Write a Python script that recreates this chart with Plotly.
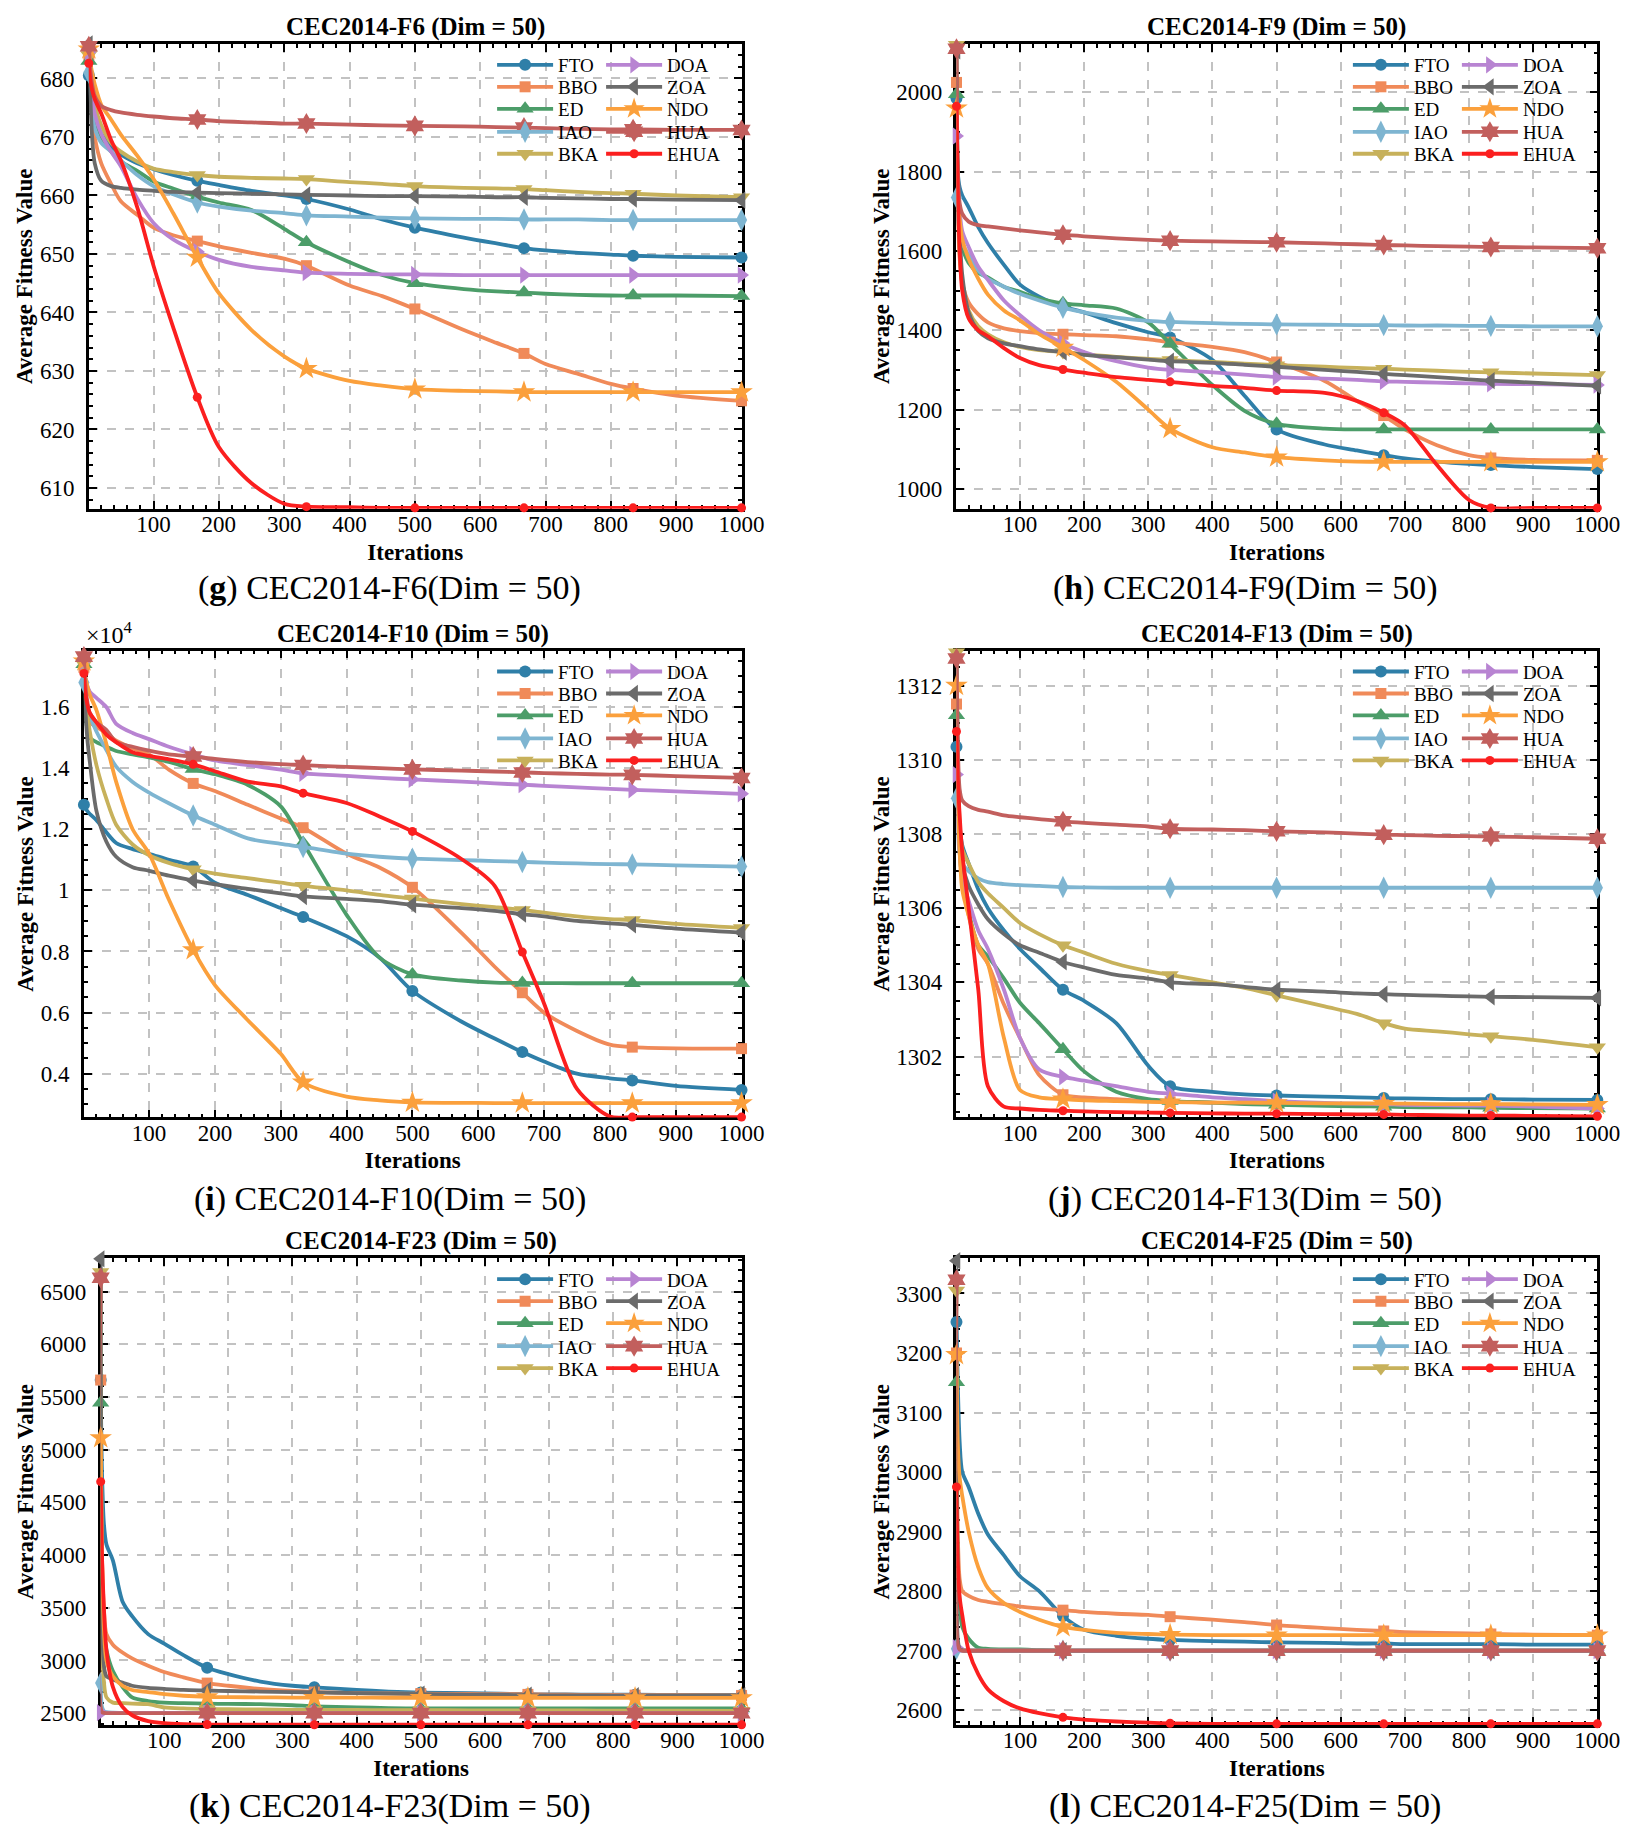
import plotly.graph_objects as go

W, H = 1636, 1833
FONT = "Liberation Serif"

# --------------------------------------------------
# DATA
# --------------------------------------------------

ALGOS = ["FTO", "BBO", "ED", "IAO", "BKA", "DOA", "ZOA", "NDO", "HUA", "EHUA"]

ITERS = [1, 3, 6, 10, 20, 35, 50, 75, 100, 130, 167, 200, 250, 300, 334, 400,
         450, 500, 575, 625, 667, 700, 750, 800, 834, 900, 1000]
MARK_ITERS = [1, 167, 334, 500, 667, 834, 1000]

# CEC2014-F6
F6_FTO = [680.5, 678.0, 675.5, 673.0, 670.5, 668.5, 667.0, 665.5, 664.5, 663.5, 662.5, 661.8, 660.8, 660.0,
          659.4, 657.6, 655.9, 654.5, 652.8, 651.8, 651.0, 650.6, 650.2, 649.9, 649.7, 649.5, 649.4]
F6_BBO = [684.0, 679.0, 674.0, 670.0, 665.5, 662.0, 659.0, 656.7, 654.5, 653.2, 652.2, 651.3, 650.2, 649.2,
          648.0, 644.6, 642.8, 640.6, 637.0, 634.8, 633.0, 631.2, 629.5, 627.8, 627.0, 625.8, 624.9]
F6_ED = [683.0, 680.0, 677.0, 674.0, 670.0, 667.5, 665.8, 664.2, 662.4, 661.2, 659.8, 658.8, 657.5, 654.3,
         652.0, 648.6, 646.4, 645.0, 644.0, 643.6, 643.4, 643.2, 643.0, 642.9, 642.9, 642.9, 642.8]
F6_IAO = [681.0, 677.0, 674.0, 671.5, 669.0, 667.5, 666.0, 663.5, 661.6, 660.2, 658.8, 658.1, 657.4, 657.0,
          656.6, 656.4, 656.2, 656.1, 656.0, 656.0, 655.9, 655.9, 655.9, 655.8, 655.8, 655.8, 655.8]
F6_BKA = [684.0, 681.0, 678.0, 675.5, 672.0, 669.0, 667.5, 665.8, 664.6, 664.0, 663.5, 663.2, 663.0, 662.9,
          662.8, 662.3, 662.0, 661.6, 661.3, 661.2, 661.1, 660.9, 660.6, 660.4, 660.3, 660.0, 659.7]
F6_DOA = [684.5, 681.0, 677.0, 674.0, 670.5, 667.5, 665.0, 659.5, 655.3, 652.5, 650.4, 649.0, 647.8, 647.2,
          646.8, 646.6, 646.5, 646.5, 646.4, 646.4, 646.4, 646.4, 646.4, 646.4, 646.4, 646.4, 646.4]
F6_ZOA = [685.9, 678.0, 670.0, 665.5, 662.5, 661.6, 661.3, 661.0, 660.8, 660.6, 660.5, 660.4, 660.3, 660.2,
          660.1, 660.0, 659.9, 659.9, 659.8, 659.7, 659.7, 659.6, 659.5, 659.4, 659.4, 659.3, 659.2]
F6_NDO = [685.0, 683.0, 681.0, 679.0, 675.5, 673.0, 670.4, 666.8, 662.8, 657.0, 649.4, 643.3, 637.0, 632.5,
          630.4, 628.3, 627.5, 626.9, 626.6, 626.5, 626.4, 626.4, 626.4, 626.4, 626.4, 626.4, 626.4]
F6_HUA = [685.5, 682.0, 679.0, 677.0, 675.3, 674.6, 674.2, 673.8, 673.5, 673.2, 673.0, 672.7, 672.5, 672.3,
          672.3, 672.1, 672.0, 671.9, 671.8, 671.7, 671.6, 671.5, 671.4, 671.3, 671.3, 671.2, 671.2]
F6_EHUA = [682.6, 680.0, 678.0, 676.5, 674.0, 669.5, 666.0, 658.0, 648.0, 637.5, 625.5, 617.0, 610.8, 607.3,
           606.8, 606.7, 606.6, 606.6, 606.6, 606.6, 606.6, 606.6, 606.6, 606.6, 606.6, 606.6, 606.6]

# CEC2014-F9
F9_FTO = [1985, 1800, 1760, 1740, 1710, 1660, 1620, 1565, 1515, 1485, 1460, 1445, 1418, 1395,
          1382, 1325, 1235, 1150, 1112, 1097, 1085, 1077, 1069, 1063, 1060, 1055, 1050]
F9_BBO = [2025, 1700, 1580, 1520, 1470, 1440, 1420, 1405, 1398, 1393, 1390, 1388, 1385, 1377,
          1370, 1358, 1345, 1320, 1272, 1222, 1185, 1150, 1110, 1085, 1078, 1073, 1072]
F9_ED = [1995, 1750, 1660, 1610, 1570, 1545, 1533, 1510, 1497, 1480, 1468, 1463, 1455, 1420,
         1366, 1262, 1197, 1164, 1152, 1150, 1150, 1150, 1150, 1150, 1150, 1150, 1150]
F9_IAO = [1735, 1680, 1650, 1620, 1590, 1550, 1530, 1510, 1492, 1475, 1457, 1445, 1432, 1424,
          1421, 1418, 1416, 1415, 1414, 1413, 1413, 1412, 1412, 1411, 1411, 1410, 1410]
F9_BKA = [2120, 1750, 1600, 1520, 1450, 1410, 1390, 1370, 1358, 1350, 1345, 1340, 1333, 1328,
          1325, 1320, 1316, 1312, 1308, 1305, 1303, 1301, 1298, 1295, 1294, 1291, 1287]
F9_DOA = [1890, 1760, 1700, 1650, 1610, 1560, 1527, 1475, 1438, 1400, 1367, 1345, 1322, 1306,
          1300, 1294, 1288, 1282, 1278, 1275, 1271, 1270, 1268, 1266, 1265, 1264, 1262]
F9_ZOA = [2105, 1800, 1650, 1540, 1445, 1398, 1380, 1367, 1360, 1352, 1345, 1338, 1332, 1326,
          1322, 1318, 1313, 1308, 1300, 1295, 1290, 1287, 1282, 1276, 1273, 1268, 1260]
F9_NDO = [1960, 1760, 1680, 1630, 1580, 1530, 1490, 1450, 1425, 1390, 1357, 1325, 1270, 1200,
          1152, 1105, 1092, 1080, 1072, 1069, 1068, 1068, 1068, 1068, 1068, 1068, 1068]
F9_HUA = [2110, 1800, 1720, 1694, 1674, 1665, 1662, 1657, 1652, 1647, 1641, 1637, 1632, 1628,
          1626, 1624, 1623, 1622, 1619, 1617, 1615, 1614, 1612, 1611, 1610, 1609, 1607]
F9_EHUA = [1965, 1750, 1600, 1500, 1430, 1400, 1385, 1355, 1330, 1312, 1301, 1293, 1282, 1275,
           1270, 1260, 1255, 1248, 1242, 1222, 1192, 1160, 1060, 972, 952, 952, 952]

# CEC2014-F10
F10_FTO = [12800, 12700, 12600, 12500, 12300, 11900, 11550, 11350, 11200, 11000, 10780, 10250, 9850, 9420,
           9130, 8500, 7800, 6710, 5700, 5150, 4710, 4400, 4000, 3850, 3780, 3600, 3470]
F10_BBO = [17300, 16200, 15800, 15500, 15350, 15150, 14900, 14650, 14450, 13950, 13500, 13250, 12800, 12350,
           12050, 11200, 10750, 10100, 8600, 7500, 6650, 6000, 5400, 4950, 4870, 4830, 4820]
F10_ED = [17400, 16000, 15300, 15000, 14850, 14700, 14560, 14450, 14350, 14200, 13970, 13800, 13450, 12750,
          11550, 9200, 7800, 7250, 7050, 6980, 6970, 6965, 6960, 6960, 6960, 6960, 6960]
F10_IAO = [16800, 16300, 16000, 15700, 15200, 14600, 14050, 13550, 13200, 12850, 12450, 12150, 11700, 11520,
           11420, 11200, 11100, 11040, 10990, 10960, 10930, 10910, 10880, 10860, 10850, 10820, 10780]
F10_BKA = [17400, 16500, 15800, 15200, 14100, 13000, 12150, 11500, 11150, 10900, 10690, 10550, 10400, 10250,
           10150, 10000, 9850, 9730, 9550, 9450, 9360, 9270, 9150, 9060, 9030, 8900, 8770]
F10_DOA = [17500, 17000, 16700, 16500, 16300, 16000, 15450, 15150, 14950, 14700, 14450, 14250, 14100, 13950,
           13830, 13750, 13680, 13630, 13560, 13500, 13460, 13420, 13370, 13320, 13290, 13240, 13160]
F10_ZOA = [17850, 16000, 15000, 14200, 12600, 11600, 11100, 10760, 10640, 10480, 10320, 10200, 10050, 9900,
           9800, 9720, 9650, 9530, 9420, 9330, 9220, 9150, 9000, 8920, 8870, 8750, 8620]
F10_NDO = [17500, 17000, 16700, 16400, 15900, 14800, 13550, 12000, 11200, 9700, 8050, 6900, 5750, 4650,
           3720, 3250, 3130, 3060, 3045, 3040, 3040, 3040, 3040, 3040, 3040, 3040, 3040]
F10_HUA = [17650, 16800, 16200, 15800, 15500, 15250, 14850, 14700, 14570, 14450, 14380, 14300, 14200, 14130,
           14100, 14040, 14000, 13960, 13920, 13890, 13860, 13840, 13810, 13790, 13780, 13740, 13680]
F10_EHUA = [17100, 16500, 16100, 15800, 15500, 15100, 14850, 14520, 14400, 14290, 14125, 13900, 13560, 13400,
            13180, 12860, 12420, 11930, 11020, 10150, 7980, 6300, 3500, 2600, 2580, 2580, 2580]

# CEC2014-F13
F13_FTO = [1310.35, 1309.0, 1308.2, 1307.7, 1307.2, 1306.5, 1306.0, 1305.4, 1304.9, 1304.4, 1303.8, 1303.5,
           1302.9, 1301.75, 1301.2, 1301.05, 1300.98, 1300.95, 1300.92, 1300.9, 1300.88, 1300.87, 1300.86,
           1300.85, 1300.85, 1300.84, 1300.83]
F13_BBO = [1311.5, 1309.5, 1308.0, 1307.0, 1305.8, 1304.9, 1304.5, 1303.4, 1302.5, 1301.5, 1300.97, 1300.9,
           1300.85, 1300.8, 1300.78, 1300.76, 1300.74, 1300.72, 1300.71, 1300.7, 1300.7, 1300.69, 1300.69,
           1300.68, 1300.68, 1300.67, 1300.65]
F13_ED = [1311.2, 1309.0, 1307.5, 1306.8, 1305.9, 1305.0, 1304.7, 1304.1, 1303.45, 1302.9, 1302.2, 1301.6,
          1301.05, 1300.85, 1300.8, 1300.76, 1300.72, 1300.7, 1300.67, 1300.66, 1300.65, 1300.64, 1300.63,
          1300.63, 1300.62, 1300.61, 1300.6]
F13_IAO = [1308.96, 1308.0, 1307.5, 1307.2, 1307.0, 1306.8, 1306.7, 1306.65, 1306.62, 1306.6, 1306.57, 1306.56,
           1306.55, 1306.55, 1306.55, 1306.55, 1306.55, 1306.55, 1306.55, 1306.55, 1306.55, 1306.55, 1306.55,
           1306.55, 1306.55, 1306.55, 1306.55]
F13_BKA = [1312.9, 1310.0, 1308.3, 1307.6, 1307.2, 1306.7, 1306.4, 1306.0, 1305.6, 1305.3, 1305.0, 1304.8,
           1304.5, 1304.3, 1304.2, 1304.0, 1303.85, 1303.65, 1303.35, 1303.15, 1302.9, 1302.75, 1302.68,
           1302.6, 1302.55, 1302.45, 1302.25]
F13_DOA = [1309.6, 1308.5, 1307.5, 1306.8, 1306.2, 1305.4, 1304.9, 1303.8, 1302.5, 1301.65, 1301.45, 1301.35,
           1301.2, 1301.05, 1301.0, 1300.9, 1300.85, 1300.8, 1300.75, 1300.73, 1300.72, 1300.7, 1300.69,
           1300.68, 1300.68, 1300.65, 1300.6]
F13_ZOA = [1312.95, 1310.0, 1308.0, 1307.2, 1306.6, 1306.1, 1305.7, 1305.3, 1305.0, 1304.8, 1304.55, 1304.4,
           1304.2, 1304.1, 1304.0, 1303.95, 1303.88, 1303.8, 1303.75, 1303.7, 1303.68, 1303.66, 1303.64,
           1303.62, 1303.61, 1303.6, 1303.58]
F13_NDO = [1312.0, 1309.0, 1307.5, 1306.5, 1305.8, 1305.0, 1304.5, 1302.5, 1301.1, 1300.9, 1300.85, 1300.82,
           1300.8, 1300.78, 1300.77, 1300.76, 1300.76, 1300.75, 1300.74, 1300.74, 1300.73, 1300.73, 1300.72,
           1300.72, 1300.72, 1300.71, 1300.7]
F13_HUA = [1312.73, 1310.5, 1309.2, 1308.9, 1308.75, 1308.65, 1308.6, 1308.5, 1308.45, 1308.4, 1308.34, 1308.3,
           1308.25, 1308.2, 1308.14, 1308.12, 1308.1, 1308.07, 1308.04, 1308.01, 1307.98, 1307.97, 1307.95,
           1307.94, 1307.93, 1307.91, 1307.87]
F13_EHUA = [1310.76, 1309.5, 1308.5, 1307.5, 1306.0, 1303.8, 1301.2, 1300.65, 1300.6, 1300.56, 1300.54, 1300.52,
            1300.5, 1300.49, 1300.48, 1300.47, 1300.46, 1300.46, 1300.45, 1300.44, 1300.44, 1300.43, 1300.42,
            1300.41, 1300.41, 1300.4, 1300.39]

# CEC2014-F23
F23_FTO = [5660, 4800, 4300, 4100, 3950, 3560, 3420, 3250, 3160, 3050, 2930, 2870, 2800, 2760,
           2745, 2720, 2705, 2695, 2690, 2685, 2680, 2678, 2676, 2675, 2675, 2673, 2672]
F23_BBO = [5660, 4000, 3500, 3250, 3150, 3075, 3020, 2950, 2890, 2840, 2785, 2760, 2730, 2710,
           2700, 2690, 2687, 2685, 2682, 2680, 2678, 2676, 2674, 2672, 2671, 2670, 2668]
F23_ED = [5444, 3800, 3300, 3100, 2900, 2750, 2650, 2615, 2600, 2595, 2590, 2588, 2585, 2575,
          2565, 2555, 2548, 2545, 2545, 2545, 2545, 2545, 2545, 2545, 2545, 2545, 2545]
F23_IAO = [2785, 2560, 2520, 2510, 2505, 2503, 2503, 2502, 2502, 2502, 2502, 2502, 2502, 2502,
           2502, 2502, 2502, 2502, 2502, 2502, 2502, 2502, 2502, 2502, 2502, 2502, 2502]
F23_BKA = [6685, 3200, 2800, 2650, 2600, 2595, 2590, 2585, 2555, 2545, 2540, 2538, 2535, 2532,
           2530, 2530, 2529, 2528, 2527, 2526, 2526, 2525, 2525, 2524, 2524, 2523, 2522]
F23_DOA = [2505, 2501, 2500, 2500, 2500, 2500, 2500, 2500, 2500, 2500, 2500, 2500, 2500, 2500,
           2500, 2500, 2500, 2500, 2500, 2500, 2500, 2500, 2500, 2500, 2500, 2500, 2500]
F23_ZOA = [6810, 3500, 2950, 2850, 2820, 2790, 2760, 2740, 2730, 2720, 2715, 2710, 2705, 2700,
           2697, 2690, 2685, 2680, 2676, 2673, 2670, 2669, 2668, 2667, 2666, 2665, 2665]
F23_NDO = [5111, 4000, 3300, 3000, 2850, 2760, 2720, 2700, 2680, 2665, 2655, 2652, 2650, 2648,
           2647, 2647, 2646, 2646, 2645, 2645, 2645, 2645, 2645, 2645, 2645, 2645, 2645]
F23_HUA = [6630, 2510, 2502, 2500, 2500, 2500, 2500, 2500, 2500, 2500, 2500, 2500, 2500, 2500,
           2500, 2500, 2500, 2500, 2500, 2500, 2500, 2500, 2500, 2500, 2500, 2500, 2500]
F23_EHUA = [4696, 4000, 3500, 3100, 2750, 2560, 2480, 2425, 2405, 2396, 2392, 2391, 2390, 2390,
            2390, 2390, 2390, 2390, 2390, 2390, 2390, 2390, 2390, 2390, 2390, 2390, 2390]

# CEC2014-F25
F25_FTO = [3252, 3150, 3050, 3000, 2975, 2930, 2895, 2860, 2825, 2800, 2758, 2735, 2725, 2720,
           2718, 2716, 2715, 2714, 2713, 2712, 2712, 2711, 2711, 2711, 2711, 2710, 2710]
F25_BBO = [3200, 2900, 2820, 2800, 2792, 2785, 2782, 2778, 2774, 2771, 2768, 2765, 2762, 2760,
           2757, 2752, 2748, 2743, 2738, 2735, 2733, 2731, 2730, 2729, 2728, 2727, 2726]
F25_ED = [3151, 2850, 2780, 2740, 2720, 2705, 2703, 2702, 2702, 2701, 2700, 2700, 2700, 2700,
          2700, 2700, 2700, 2700, 2700, 2700, 2700, 2700, 2700, 2700, 2700, 2700, 2700]
F25_IAO = [2703, 2701, 2700, 2700, 2700, 2700, 2700, 2700, 2700, 2700, 2700, 2700, 2700, 2700,
           2700, 2700, 2700, 2700, 2700, 2700, 2700, 2700, 2700, 2700, 2700, 2700, 2700]
F25_BKA = [3305, 2710, 2702, 2700, 2700, 2700, 2700, 2700, 2700, 2700, 2700, 2700, 2700, 2700,
           2700, 2700, 2700, 2700, 2700, 2700, 2700, 2700, 2700, 2700, 2700, 2700, 2700]
F25_DOA = [2705, 2701, 2700, 2700, 2700, 2700, 2700, 2700, 2700, 2700, 2700, 2700, 2700, 2700,
           2700, 2700, 2700, 2700, 2700, 2700, 2700, 2700, 2700, 2700, 2700, 2700, 2700]
F25_ZOA = [3355, 2720, 2703, 2701, 2700, 2700, 2700, 2700, 2700, 2700, 2700, 2700, 2700, 2700,
           2700, 2700, 2700, 2700, 2700, 2700, 2700, 2700, 2700, 2700, 2700, 2700, 2700]
F25_NDO = [3197, 3050, 2990, 2960, 2900, 2840, 2805, 2780, 2765, 2752, 2740, 2735, 2730, 2728,
           2727, 2726, 2726, 2726, 2726, 2726, 2726, 2726, 2726, 2726, 2726, 2726, 2726]
F25_HUA = [3323, 2710, 2702, 2700, 2700, 2700, 2700, 2700, 2700, 2700, 2700, 2700, 2700, 2700,
           2700, 2700, 2700, 2700, 2700, 2700, 2700, 2700, 2700, 2700, 2700, 2700, 2700]
F25_EHUA = [2975, 2850, 2790, 2760, 2700, 2660, 2635, 2615, 2603, 2595, 2588, 2584, 2581, 2579,
            2578, 2577, 2577, 2577, 2577, 2577, 2577, 2577, 2577, 2577, 2577, 2577, 2577]

# --------------------------------------------------
# STYLE
# --------------------------------------------------

COLORS = {
    "FTO": "#2f7fa8", "BBO": "#f08a59", "ED": "#4c9d69", "IAO": "#7eb5d1", "BKA": "#c7b15b",
    "DOA": "#b884d2", "ZOA": "#6b6b6b", "NDO": "#fba03c", "HUA": "#c25f5d", "EHUA": "#fb1f1f",
}
SYMBOLS = {
    "FTO": "circle", "BBO": "square", "ED": "triangle-up", "IAO": "diamond-tall", "BKA": "triangle-down",
    "DOA": "triangle-right", "ZOA": "triangle-left", "NDO": "star", "HUA": "hexagram", "EHUA": "circle",
}
SIZES = {
    "FTO": 12, "BBO": 11, "ED": 15, "IAO": 16, "BKA": 15,
    "DOA": 15, "ZOA": 15, "NDO": 17, "HUA": 16, "EHUA": 9,
}

PANELS = [
    dict(name="F6", letter="g", data=[F6_FTO, F6_BBO, F6_ED, F6_IAO, F6_BKA, F6_DOA, F6_ZOA, F6_NDO, F6_HUA, F6_EHUA],
         yrange=[606.45, 685.9], ytick=list(range(610, 681, 10)), ytext=None, minor=2,
         box=(82, 744, 36, 501)),
    dict(name="F9", letter="h", data=[F9_FTO, F9_BBO, F9_ED, F9_IAO, F9_BKA, F9_DOA, F9_ZOA, F9_NDO, F9_HUA, F9_EHUA],
         yrange=[950, 2122], ytick=list(range(1000, 2001, 200)), ytext=None, minor=50,
         box=(962, 1612, 36, 501)),
    dict(name="F10", letter="i", data=[F10_FTO, F10_BBO, F10_ED, F10_IAO, F10_BKA, F10_DOA, F10_ZOA, F10_NDO, F10_HUA, F10_EHUA],
         yrange=[2570, 17845], ytick=list(range(4000, 16001, 2000)),
         ytext=["0.4", "0.6", "0.8", "1", "1.2", "1.4", "1.6"], minor=500,
         box=(77, 744, 643, 1110)),
    dict(name="F13", letter="j", data=[F13_FTO, F13_BBO, F13_ED, F13_IAO, F13_BKA, F13_DOA, F13_ZOA, F13_NDO, F13_HUA, F13_EHUA],
         yrange=[1300.36, 1312.94], ytick=list(range(1302, 1313, 2)), ytext=None, minor=0.5,
         box=(962, 1612, 643, 1110)),
    dict(name="F23", letter="k", data=[F23_FTO, F23_BBO, F23_ED, F23_IAO, F23_BKA, F23_DOA, F23_ZOA, F23_NDO, F23_HUA, F23_EHUA],
         yrange=[2387, 6815], ytick=list(range(2500, 6501, 500)), ytext=None, minor=100,
         box=(94, 744, 1251, 1718)),
    dict(name="F25", letter="l", data=[F25_FTO, F25_BBO, F25_ED, F25_IAO, F25_BKA, F25_DOA, F25_ZOA, F25_NDO, F25_HUA, F25_EHUA],
         yrange=[2575, 3359], ytick=list(range(2600, 3301, 100)), ytext=None, minor=20,
         box=(962, 1612, 1251, 1718)),
]

LEGEND_ROW_OFFSETS = [21, 43, 65, 88, 110]


def px_x(v):
    return v / W


def px_y(v):
    return 1 - v / H


mark_idx = [i for i, it in enumerate(ITERS) if it in MARK_ITERS]

fig = go.Figure()
layout = dict(annotations=[])

for p, panel in enumerate(PANELS):
    n = p + 1
    sfx = "" if n == 1 else str(n)
    left, right, top, bottom = panel["box"]

    for k, algo in enumerate(ALGOS):
        row = k % 5
        leg_no = p * 5 + row + 1
        fig.add_trace(go.Scatter(
            x=ITERS, y=panel["data"][k],
            mode="lines+markers",
            name=algo,
            line=dict(color=COLORS[algo], width=3.8, shape="spline", smoothing=0.8),
            marker=dict(symbol=SYMBOLS[algo], size=SIZES[algo], color=COLORS[algo],
                        line=dict(width=0)),
            selectedpoints=mark_idx,
            unselected=dict(marker=dict(opacity=0)),
            cliponaxis=False,
            xaxis=f"x{sfx}", yaxis=f"y{sfx}",
            legend="legend" if leg_no == 1 else f"legend{leg_no}",
            legendwidth=38 if k < 5 else 64,
            hoverinfo="skip",
        ))

    axis_common = dict(
        showline=True, linecolor="black", linewidth=2.5, mirror="ticks",
        ticks="inside", ticklen=8, tickwidth=2, tickcolor="black",
        showgrid=True, gridcolor="#c2c2c2", griddash="dash", gridwidth=1.5,
        zeroline=False, layer="below traces",
        tickfont=dict(family=FONT, size=23, color="black"),
    )
    layout[f"xaxis{sfx}"] = dict(
        axis_common,
        domain=[px_x(left), px_x(right)],
        anchor=f"y{sfx}",
        range=[1, 1000],
        tickvals=list(range(100, 1001, 100)),
        ticklabelstandoff=-7,
        minor=dict(ticks="inside", ticklen=4, tickwidth=1.5, tickcolor="black", dtick=20, tick0=0,
                   showgrid=False),
        title=dict(text="<b>Iterations</b>", font=dict(family=FONT, size=23, color="black"), standoff=8),
    )
    layout[f"yaxis{sfx}"] = dict(
        axis_common,
        domain=[px_y(bottom), px_y(top)],
        anchor=f"x{sfx}",
        range=panel["yrange"],
        tickvals=panel["ytick"],
        ticktext=panel["ytext"] if panel["ytext"] else [str(v) for v in panel["ytick"]],
        ticklabelstandoff=7,
        minor=dict(ticks="inside", ticklen=4, tickwidth=1.5, tickcolor="black", dtick=panel["minor"],
                   tick0=panel["ytick"][0], showgrid=False),
        title=dict(text="<b>Average Fitness Value</b>", font=dict(family=FONT, size=23, color="black"),
                   standoff=1),
    )

    # legend: one horizontal legend per row (two entries each)
    leg_x = 491 if left < 800 else 1359
    for row in range(5):
        leg_no = p * 5 + row + 1
        layout["legend" if leg_no == 1 else f"legend{leg_no}"] = dict(
            orientation="h",
            x=px_x(leg_x), xanchor="left",
            y=px_y(top + LEGEND_ROW_OFFSETS[row]), yanchor="middle",
            bgcolor="rgba(0,0,0,0)", borderwidth=0,
            font=dict(family=FONT, size=19, color="black"),
            itemwidth=56, entrywidthmode="pixels",
        )

    # title, caption
    cx = (left + right) / 2
    layout["annotations"].append(dict(
        text=f"<b>CEC2014-{panel['name']} (Dim = 50)</b>",
        x=px_x(cx), y=px_y(top - 1), xref="paper", yref="paper",
        xanchor="center", yanchor="bottom", showarrow=False,
        font=dict(family=FONT, size=25, color="black"),
    ))
    cap_x = 387 if left < 800 else 1255
    cap_y = {36: 580, 643: 1192, 1251: 1799}[top]
    layout["annotations"].append(dict(
        text=f"(<b>{panel['letter']}</b>) CEC2014-{panel['name']}(Dim = 50)",
        x=px_x(cap_x), y=px_y(cap_y), xref="paper", yref="paper",
        xanchor="center", yanchor="middle", showarrow=False,
        font=dict(family=FONT, size=34, color="black"),
    ))
    if panel["ytext"]:
        layout["annotations"].append(dict(
            text="×10<sup>4</sup>",
            x=px_x(left), y=px_y(top - 1), xref="paper", yref="paper",
            xanchor="left", yanchor="bottom", showarrow=False,
            font=dict(family=FONT, size=24, color="black"),
        ))

fig.update_layout(
    width=W, height=H,
    margin=dict(l=0, r=0, t=0, b=0),
    paper_bgcolor="white", plot_bgcolor="white",
    font=dict(family=FONT, color="black"),
    **layout,
)

fig.write_html("out.html")
